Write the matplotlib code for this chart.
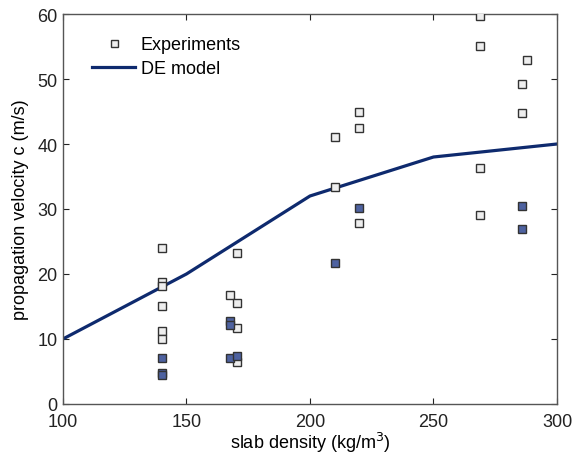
import matplotlib
matplotlib.use("Agg")
import matplotlib.pyplot as plt

plt.rcParams['font.family'] = ['Liberation Sans', 'DejaVu Sans']

# Experiments (open squares)
open_x = [140, 140, 140, 140, 140, 140,
          167.5, 170.5, 170.5, 170.5, 170.5,
          210, 210, 220, 220, 220,
          269, 269, 269, 269,
          286, 287.7, 286]
open_y = [24.0, 18.7, 18.2, 15.1, 11.2, 10.0,
          16.8, 23.3, 15.5, 11.7, 6.4,
          41.1, 33.4, 45.0, 42.4, 27.8,
          59.7, 55.1, 36.3, 29.0,
          49.2, 53.0, 44.7]
# Experiments (filled squares)
fill_x = [140, 140, 140, 167.5, 167.5, 167.5, 170.5, 210, 220, 286, 286]
fill_y = [7.1, 4.8, 4.4, 12.7, 12.1, 7.0, 7.4, 21.7, 30.2, 30.5, 26.9]

# DE model
model_x = [100, 150, 200, 250, 300]
model_y = [10, 20, 32, 38, 40]

fig = plt.figure(figsize=(5.8, 4.56), dpi=100)
ax = fig.add_axes([0.1086, 0.112, 0.8517, 0.855])

ax.plot(open_x, open_y, linestyle='none', marker='s', markersize=6.3,
        markerfacecolor='#eeeeee', markeredgecolor='#333333', markeredgewidth=1.0,
        label='Experiments', zorder=3)
ax.plot(model_x, model_y, color='#0e2a6e', linewidth=2.3, label='DE model', zorder=2)
ax.plot(fill_x, fill_y, linestyle='none', marker='s', markersize=6.3,
        markerfacecolor='#4e62a0', markeredgecolor='#333333', markeredgewidth=1.0,
        zorder=3)

ax.set_xlim(100, 300)
ax.set_ylim(0, 60)
ax.set_xticks([100, 150, 200, 250, 300])
ax.set_yticks([0, 10, 20, 30, 40, 50, 60])
ax.tick_params(direction='in', top=True, right=True, labelsize=13, length=4.5,
               colors='#222222')
ax.tick_params(axis='x', pad=6.5)
ax.tick_params(axis='y', pad=4)
for s in ax.spines.values():
    s.set_color('#555555')
    s.set_linewidth(1.0)

ax.set_xlabel('slab density (kg/m$^3$)', fontsize=13, labelpad=0)
ax.set_ylabel('propagation velocity c (m/s)', fontsize=13, labelpad=6)

leg = ax.legend(loc='upper left', frameon=False, fontsize=13,
                bbox_to_anchor=(0.0587, 0.944), handlelength=2.4, handletextpad=0.3,
                labelspacing=0.42, borderaxespad=0.0, borderpad=0.0, markerscale=0.8)

fig.savefig('out.png', dpi=100)
